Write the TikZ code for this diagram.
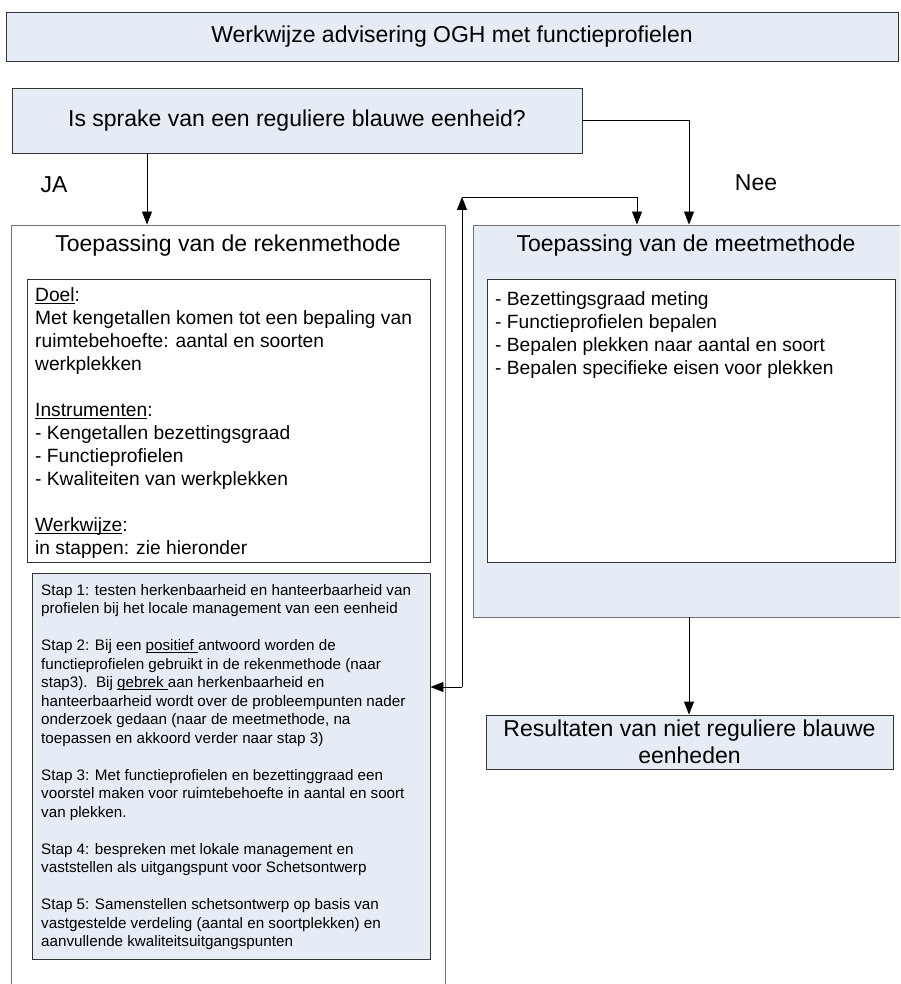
\documentclass[tikz,border=0pt]{standalone}
\usepackage{fontspec}
\setmainfont{Liberation Sans}
\usetikzlibrary{arrows.meta}
\definecolor{paleblue}{RGB}{230,236,246}
\newcommand{\onderlijn}[1]{\underline{\smash{#1}}}

\begin{document}
\begin{tikzpicture}[x=1pt, y=-1pt, box/.style={draw=black!80, line width=0.9pt, inner sep=0pt}, bluebox/.style={box, fill=paleblue}, outer/.style={draw=black!55, line width=0.9pt, inner sep=0pt}, big/.style={font=\fontsize{23}{27}\selectfont}, body/.style={font=\fontsize{19.2}{23}\selectfont, align=left, inner sep=0pt, anchor=north west}, small/.style={font=\fontsize{15.2}{18.5}\selectfont, align=left, inner sep=0pt, anchor=north west}, arr/.style={-{Triangle[length=13pt,width=10pt]}, line width=0.9pt}]

    \useasboundingbox (0,0) rectangle (900,984);
    \clip (0,0) rectangle (900,984);

    \node at (452,36.5) [bluebox, minimum width=892pt, minimum height=49pt, big] (title) {Werkwijze advisering OGH met functieprofielen};
    \node at (297,120.5) [bluebox, minimum width=570pt, minimum height=65pt, big] (vraag) {Is sprake van een reguliere blauwe eenheid?};

    \node at (54,185) [big] (ja) {JA};
    \node at (756,183) [big] (nee) {Nee};

    % rekenmethode
    \node at (228,612.5) [outer, fill=white, minimum width=434pt, minimum height=775pt] (reken) {};
    \node at (228,246) [big] (reken_t) {Toepassing van de rekenmethode};
    \node at (228.5,420.5) [box, fill=white, minimum width=403pt, minimum height=283pt] (doel) {};
    \node at (35,291) [body] (doel_t) {\onderlijn{Doel}:\\
        Met kengetallen komen tot een bepaling van\\
        ruimtebehoefte: aantal en soorten\\
        werkplekken\\[23pt]
        \onderlijn{Instrumenten}:\\
        - Kengetallen bezettingsgraad\\
        - Functieprofielen\\
        - Kwaliteiten van werkplekken\\[23pt]
        \onderlijn{Werkwijze}:\\
        in stappen: zie hieronder};
    \node at (231,766) [bluebox, minimum width=398pt, minimum height=386pt] (stappen) {};
    \node at (41,584) [small] (stappen_t) {Stap 1: testen herkenbaarheid en hanteerbaarheid van\\
        profielen bij het locale management van een eenheid\\[18.5pt]
        Stap 2: Bij een \onderlijn{positief\ }antwoord worden de\\
        functieprofielen gebruikt in de rekenmethode (naar\\
        stap3).\ \ Bij \onderlijn{gebrek\ }aan herkenbaarheid en\\
        hanteerbaarheid wordt over de probleempunten nader\\
        onderzoek gedaan (naar de meetmethode, na\\
        toepassen en akkoord verder naar stap 3)\\[18.5pt]
        Stap 3: Met functieprofielen en bezettinggraad een\\
        voorstel maken voor ruimtebehoefte in aantal en soort\\
        van plekken.\\[18.5pt]
        Stap 4: bespreken met lokale management en\\
        vaststellen als uitgangspunt voor Schetsontwerp\\[18.5pt]
        Stap 5: Samenstellen schetsontwerp op basis van\\
        vastgestelde verdeling (aantal en soortplekken) en\\
        aanvullende kwaliteitsuitgangspunten};

    % meetmethode
    \node at (689,421) [outer, fill=paleblue, minimum width=432pt, minimum height=392pt] (meet) {};
    \node at (686,246) [big] (meet_t) {Toepassing van de meetmethode};
    \node at (691,420.5) [box, fill=white, minimum width=408pt, minimum height=283pt] (meet_in) {};
    \node at (495,291) [body] (meet_in_t) {- Bezettingsgraad meting\\
        - Functieprofielen bepalen\\
        - Bepalen plekken naar aantal en soort\\
        - Bepalen specifieke eisen voor plekken};

    \node at (689.5,742) [bluebox, minimum width=407pt, minimum height=54pt, big, align=center] (result) {Resultaten van niet reguliere blauwe\\eenheden};

    \coordinate (lus_1) at (462,687);
    \coordinate (lus_2) at (462,197);

    \draw[arr] ([xshift=-150pt]vraag.south) -- ([xshift=-150pt]vraag.south |- reken.north);
    \draw[arr] (vraag.east) -| (meet.north);
    \draw[arr] (meet.south) -- (meet.south |- result.north);
    \draw[arr] (lus_1) -- (stappen.east |- lus_1);
    \draw[arr] (lus_1) -- (lus_2);
    \draw[arr] (lus_2) -| ([xshift=-52pt]meet.north);
\end{tikzpicture}
\end{document}
